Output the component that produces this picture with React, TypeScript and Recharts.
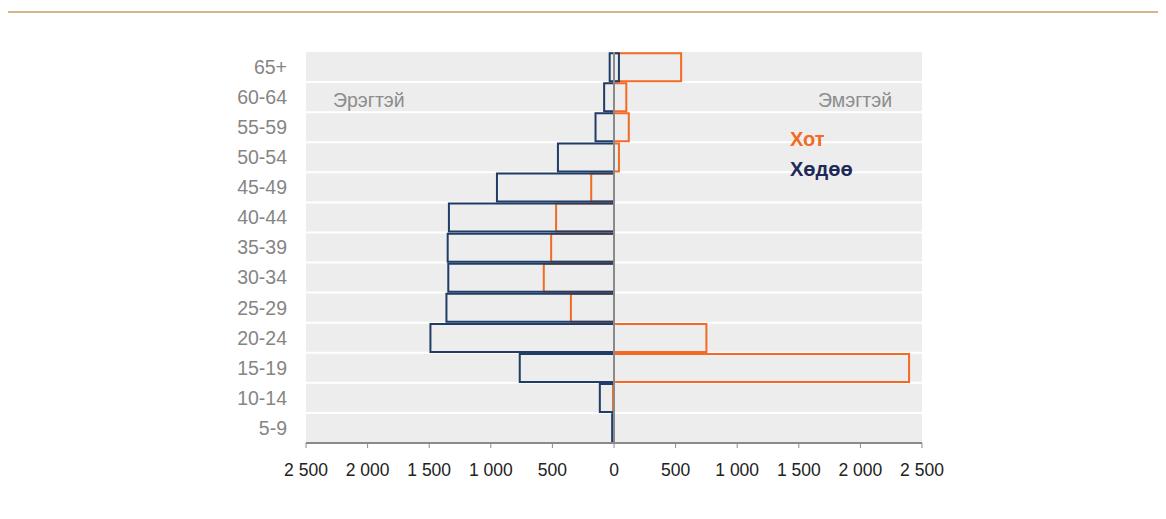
import {
  BarChart,
  Bar,
  XAxis,
  YAxis,
  CartesianGrid,
  ReferenceLine,
} from 'recharts';

const ageGroups = ['65+', '60-64', '55-59', '50-54', '45-49', '40-44', '35-39', '30-34', '25-29', '20-24', '15-19', '10-14', '5-9'];
// male values are negative (left side), female positive (right side)
const maleRural = [-35, -80, -150, -455, -950, -1340, -1350, -1345, -1360, -1490, -765, -115, -15];
const maleUrban = [0, 0, 0, 0, -185, -470, -510, -570, -350, 0, 0, -8, 0];
const femaleRural = [40, 0, 0, 0, 0, 0, 0, 0, 0, 0, 0, 0, 0];
const femaleUrban = [545, 100, 120, 40, 0, 0, 0, 0, 0, 750, 2395, 0, 0];
const xTicks = [-2500, -2000, -1500, -1000, -500, 0, 500, 1000, 1500, 2000, 2500];

const URBAN = '#f26a24';
const RURAL = '#1f3d66';
const FRAME = '#d2b889';

const data = ageGroups.map((age, i) => ({
  age,
  maleRural: maleRural[i],
  maleUrban: maleUrban[i],
  femaleRural: femaleRural[i],
  femaleUrban: femaleUrban[i],
}));

const formatTick = (value: number) => {
  const v = Math.abs(value);
  if (v < 1000) return String(v);
  const rest = String(v % 1000).padStart(3, '0');
  return `${Math.floor(v / 1000)} ${rest}`;
};

// white separators on the band edges instead of the band centres
const bandEdges = ({ offset }: { offset: { top: number; height: number } }) => {
  const lines: number[] = [];
  for (let i = 1; i < ageGroups.length; i++) {
    lines.push(offset.top + (offset.height * i) / ageGroups.length);
  }
  return lines;
};

const hiddenAxes = ['mu', 'fr', 'fu'];

export default function App() {
  return (
    <div style={{ position: 'relative', width: 1158, height: 511, fontFamily: '"Liberation Sans", Arial, sans-serif' }}>
      <div style={{ position: 'absolute', left: -2, top: 3, width: 1160, height: 2, background: FRAME }} />
      <div style={{ position: 'absolute', left: -2, top: 3, width: 2, height: 508, background: FRAME }} />
      <BarChart
        width={1158}
        height={511}
        data={data}
        layout="vertical"
        barCategoryGap="4%"
        margin={{ top: 44, right: 244, left: 0, bottom: 36 }}
      >
        <CartesianGrid
          vertical={false}
          fill="#ededed"
          stroke="#ffffff"
          strokeWidth={2}
          horizontalCoordinatesGenerator={bandEdges}
        />
        <XAxis
          type="number"
          domain={[-2500, 2500]}
          ticks={xTicks}
          tickFormatter={formatTick}
          height={40}
          tick={{ fill: '#222', fontSize: 17.5 }}
          tickSize={5}
          tickMargin={16}
          axisLine={{ stroke: '#8a8a8a', strokeWidth: 2 }}
          tickLine={{ stroke: '#8a8a8a' }}
        />
        <YAxis
          yAxisId="mr"
          type="category"
          dataKey="age"
          width={298}
          tick={{ fill: '#858585', fontSize: 19.5 }}
          tickSize={0}
          tickMargin={19}
          axisLine={false}
          tickLine={false}
        />
        {hiddenAxes.map((id) => (
          <YAxis key={id} yAxisId={id} type="category" dataKey="age" width={0} hide />
        ))}
        <Bar yAxisId="mu" dataKey="maleUrban" fill="none" stroke={URBAN} strokeWidth={2} isAnimationActive={false} />
        <Bar yAxisId="fu" dataKey="femaleUrban" fill="none" stroke={URBAN} strokeWidth={2} isAnimationActive={false} />
        <Bar yAxisId="mr" dataKey="maleRural" fill="none" stroke={RURAL} strokeWidth={2} isAnimationActive={false} />
        <Bar yAxisId="fr" dataKey="femaleRural" fill="none" stroke={RURAL} strokeWidth={2} isAnimationActive={false} />
        <ReferenceLine yAxisId="mr" x={0} stroke="#8a8a8a" strokeWidth={2} />
      </BarChart>
      <div style={{ position: 'absolute', left: 325, top: 81, fontSize: 19.5, color: '#8c8c8c' }}>Эрэгтэй</div>
      <div style={{ position: 'absolute', left: 810, top: 81, fontSize: 19.5, color: '#8c8c8c' }}>Эмэгтэй</div>
      <div style={{ position: 'absolute', left: 782, top: 120, fontSize: 20, fontWeight: 'bold', color: URBAN }}>Хот</div>
      <div style={{ position: 'absolute', left: 782, top: 150, fontSize: 20, fontWeight: 'bold', color: '#1f2a5a' }}>Хөдөө</div>
    </div>
  );
}
